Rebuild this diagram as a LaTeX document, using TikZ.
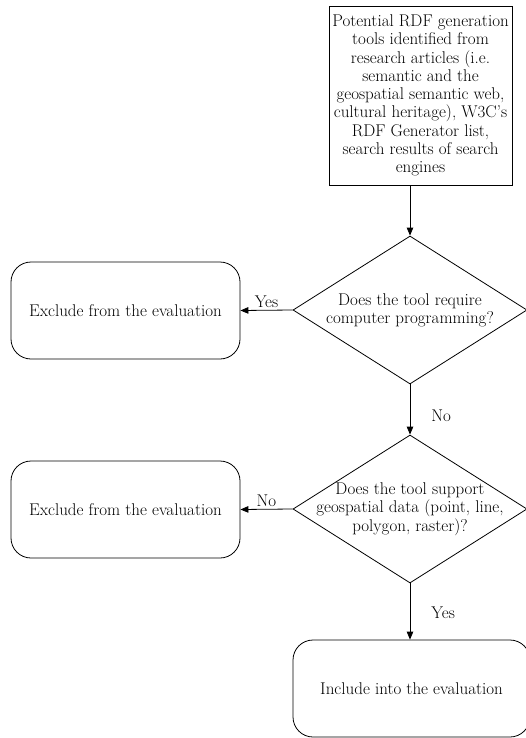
\documentclass[tikz,border=0pt]{standalone}
\usetikzlibrary{shapes.geometric,arrows.meta}
\begin{document}
\begin{tikzpicture}[x=1pt,y=1pt,
  txt/.style={font=\fontsize{17}{18.3}\selectfont},
  srcbox/.style={draw, line width=0.8pt, minimum width=183pt, minimum height=179pt,
    align=center, inner sep=0pt, txt},
  endbox/.style={draw, rounded corners=20pt, line width=0.8pt, minimum width=229pt,
    minimum height=97pt, inner sep=0pt, txt},
  decision/.style={draw, diamond, line width=0.8pt, minimum width=234pt,
    minimum height=148pt, inner sep=0pt},
  qtext/.style={align=center, inner sep=0pt, txt},
  flow/.style={-{Triangle[length=8pt,width=6.5pt]}, line width=0.8pt},
  lbl/.style={txt, inner sep=2pt}]

\useasboundingbox (0,0) rectangle (526,-738);

% source of candidate tools
\node[srcbox] (src) at (420.5,-95.5)
  {Potential RDF generation\\ tools identified from\\ research articles (i.e.\\
   semantic and the\\ geospatial semantic web,\\ cultural heritage), W3C's\\
   RDF Generator list,\\ search results of search\\ engines};

% first decision
\node[decision] (d1) at (410,-310) {};
\node[qtext] (q1) at (d1.center) {Does the tool require\\ computer programming?};
\node[endbox] (ex1) at (125.5,-310.5) {Exclude from the evaluation};

% second decision
\node[decision] (d2) at (410,-509) {};
\node[qtext] (q2) at (d2.center) {Does the tool support\\ geospatial data (point, line,\\ polygon, raster)?};
\node[endbox] (ex2) at (125.5,-509.5) {Exclude from the evaluation};

% accepted tools
\node[endbox, minimum width=237pt] (inc) at (411.5,-688.5) {Include into the evaluation};

% connectors
\draw[flow] (src.south -| d1.north) -- (d1.north);
\draw[flow] (d1.west) -- node[lbl, above] (l1) {Yes} (ex1.east);
\draw[flow] (d1.south) -- node[lbl, right, pos=0.62, xshift=19pt] (l2) {No} (d2.north);
\draw[flow] (d2.west) -- node[lbl, above] (l3) {No} (ex2.east);
\draw[flow] (d2.south) -- node[lbl, right, pos=0.52, xshift=19pt] (l4) {Yes} (d2.south |- inc.north);
\end{tikzpicture}
\end{document}
